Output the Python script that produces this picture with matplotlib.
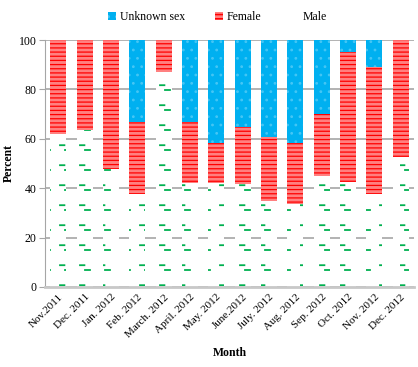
import warnings

import numpy as np
from matplotlib import pyplot as plt
from matplotlib import hatch as mhatch
from matplotlib.path import Path
import matplotlib.patches as mpatches

warnings.filterwarnings("ignore")

# data (percent of each month)
months = ["Nov.2011", "Dec. 2011", "Jan. 2012", "Feb. 2012", "March. 2012",
          "April. 2012", "May. 2012", "June.2012", "July. 2012", "Aug. 2012",
          "Sep. 2012", "Oct. 2012", "Nov. 2012", "Dec. 2012"]
male = [61.8, 63.6, 47.6, 37.5, 87.2, 42.0, 42.0, 41.6, 34.9, 33.5, 45.1, 42.6, 37.5, 52.8]
female = [38.2, 36.4, 52.4, 29.4, 12.8, 25.0, 16.2, 23.1, 26.0, 24.7, 24.8, 52.7, 51.4, 47.2]
unknown = [0.0, 0.0, 0.0, 33.1, 0.0, 33.0, 41.8, 35.3, 39.1, 41.8, 30.1, 4.7, 11.1, 0.0]


# short green dashes, like the excel pattern fill used for "Male"
class DashHatch(mhatch.HatchPatternBase):
    def __init__(self, hatch, density):
        self.n = 5 if 'd' in hatch else 0
        self.num_vertices = self.n * self.n * 4

    def set_vertices_and_codes(self, vertices, codes):
        step = 1.0 / self.n
        k = 0
        for i in range(self.n):
            for j in range(self.n):
                x0, y0 = i * step, j * step
                vertices[k] = (x0 + 0.25 * step, y0 + 0.5 * step)
                vertices[k + 1] = (x0 + 0.5 * step, y0 + 0.5 * step)
                vertices[k + 2] = (x0, y0 + 0.74 * step)
                vertices[k + 3] = (x0 + 0.22 * step, y0 + 0.74 * step)
                codes[k:k + 4] = [Path.MOVETO, Path.LINETO, Path.MOVETO, Path.LINETO]
                k += 4


mhatch._hatch_types.append(DashHatch)

plt.rcParams['font.family'] = ['Liberation Serif', 'DejaVu Serif']
plt.rcParams['hatch.linewidth'] = 1.1


def hatch_lw(container, lw):
    for p in container:
        if hasattr(p, 'set_hatch_linewidth'):
            p.set_hatch_linewidth(lw)


fig = plt.figure(figsize=(4.18, 3.67), dpi=100)
ax = fig.add_axes([0.108, 0.218, 0.882, 0.673])

x = np.arange(len(months))
male = np.array(male)
female = np.array(female)
unknown = np.array(unknown)

b1 = ax.bar(x, male, width=0.6, color='white', edgecolor='#00B050', hatch='d',
            linewidth=0, zorder=2)
b2 = ax.bar(x, female, width=0.6, bottom=male, color='#FF8080', edgecolor='#FF0000',
            hatch='----', linewidth=0, zorder=2)
b3 = ax.bar(x, unknown, width=0.6, bottom=male + female, color='#00B0F0',
            edgecolor='#45C6F5', hatch='..', linewidth=0, zorder=2)
hatch_lw(b1, 1.3)
hatch_lw(b2, 0.9)
hatch_lw(b3, 0.8)

ax.set_xlim(-0.5, len(months) - 0.5)
ax.set_ylim(0, 100)
ax.set_yticks([0, 20, 40, 60, 80, 100])
ax.yaxis.grid(True, color='#A6A6A6', linewidth=1.2, zorder=0)
ax.set_axisbelow(True)

ax.set_xticks(x)
ax.set_xticklabels(months, rotation=45, ha='right', rotation_mode='anchor')
ax.tick_params(axis='x', length=0, labelsize=8, pad=4)
ax.tick_params(axis='y', length=4, color='#A6A6A6', labelsize=8.5, pad=2)

for s in ['top', 'right']:
    ax.spines[s].set_visible(False)
ax.spines['left'].set_color('#A6A6A6')
ax.spines['bottom'].set_color('#C8C8C8')
ax.spines['bottom'].set_linewidth(2)

ax.set_ylabel('Percent', fontsize=8.5, fontweight='bold', labelpad=3)
ax.set_xlabel('Month', fontsize=8.5, fontweight='bold', labelpad=6)

handles = [mpatches.Patch(facecolor='#00B0F0', edgecolor='#45C6F5', hatch='..', linewidth=0),
           mpatches.Patch(facecolor='#FF8080', edgecolor='#FF0000', hatch='----', linewidth=0),
           mpatches.Patch(facecolor='white', linewidth=0)]
fig.legend(handles, ['Unknown sex', 'Female', 'Male'], loc='center',
           bbox_to_anchor=(0.52, 0.953), ncol=3, frameon=False, fontsize=8.5,
           handlelength=0.7, handleheight=0.7, handletextpad=0.3, columnspacing=2.5)

plt.savefig('out.png', dpi=100)
